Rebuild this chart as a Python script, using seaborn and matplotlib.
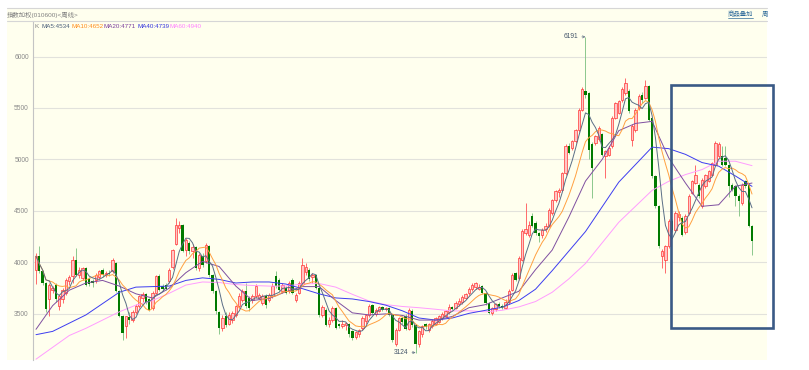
# 周线K线图 + 均线 (MA5/10/20/40/60)
import pandas as pd
import matplotlib
matplotlib.use("Agg")
import matplotlib.pyplot as plt
import seaborn as sns
from matplotlib.patches import Rectangle
from matplotlib.lines import Line2D

# K线数据 (每周 开/高/低/收)
opens = [
    3930, 4060, 3915, 3800, 3640, 3730, 3780, 3580, 3640, 3700,
    3820, 3870, 4020, 3880, 3850, 3945, 3840, 3820, 3830, 3860,
    3930, 3890, 3900, 3915, 3995, 3720, 3480, 3380, 3470, 3440,
    3520, 3573, 3650, 3690, 3640, 3560, 3700, 3865, 3770, 3780,
    3815, 3960, 4180, 4330, 4360, 4124, 4189, 4108, 4150, 3950,
    4059, 4010, 4156, 3880, 3720, 3520, 3363, 3480, 3400, 3440,
    3492, 3573, 3638, 3720, 3654, 3638, 3670, 3654, 3606, 3670,
    3638, 3670, 3865, 3832, 3719, 3751, 3719, 3832, 3638, 3703,
    3800, 3910, 3930, 3860, 3880, 3750, 3490, 3540, 3400, 3440,
    3557, 3400, 3380, 3390, 3400, 3330, 3280, 3300, 3360, 3430,
    3490, 3590, 3500, 3530, 3570, 3545, 3560, 3490, 3210, 3346,
    3460, 3480, 3350, 3530, 3390, 3210, 3300, 3400, 3340, 3380,
    3400, 3420, 3460, 3480, 3520, 3570, 3560, 3600, 3620, 3650,
    3700, 3740, 3760, 3745, 3768, 3703, 3606, 3509, 3550, 3600,
    3574, 3560, 3620, 3735, 3897, 3849, 4027, 4290, 4270, 4450,
    4383, 4286, 4270, 4320, 4350, 4480, 4610, 4680, 4700, 4870,
    5135, 5113, 5177, 5290, 5485, 5663, 5650, 5150, 5161, 5194,
    5250, 5032, 5048, 5129, 5404, 5453, 5582, 5647, 5663, 5193,
    5290, 5500, 5630, 5600, 5711, 5404, 4836, 4545, 4059, 4027,
    4156, 4400, 4318, 4440, 4432, 4300, 4480, 4675, 4772, 4756,
    4545, 4740, 4788, 4853, 4950, 5031, 5031, 5015, 4950, 4756,
    4740, 4642, 4578, 4790, 4756, 4351,
]
highs = [
    4090, 4160, 3930, 3810, 3800, 3770, 3800, 3690, 3750, 3850,
    3880, 4060, 4140, 3960, 3960, 3960, 3860, 3840, 3900, 3930,
    3950, 3920, 3930, 4045, 4000, 3730, 3490, 3480, 3520, 3540,
    3600, 3680, 3710, 3700, 3650, 3720, 3880, 3890, 3790, 3800,
    3950, 4130, 4431, 4400, 4370, 4240, 4210, 4180, 4160, 4090,
    4090, 4190, 4170, 3890, 3730, 3530, 3490, 3520, 3520, 3530,
    3590, 3700, 3740, 3800, 3670, 3690, 3790, 3700, 3690, 3690,
    3700, 3800, 3915, 3850, 3800, 3770, 3820, 3850, 3700, 3820,
    4043, 3990, 3950, 3900, 3890, 3760, 3590, 3560, 3470, 3580,
    3570, 3410, 3440, 3420, 3410, 3340, 3330, 3350, 3480, 3500,
    3600, 3600, 3560, 3580, 3580, 3570, 3570, 3500, 3360, 3470,
    3480, 3500, 3560, 3545, 3400, 3340, 3390, 3410, 3410, 3450,
    3470, 3490, 3520, 3540, 3600, 3580, 3630, 3650, 3680, 3700,
    3760, 3800, 3810, 3790, 3780, 3710, 3615, 3570, 3610, 3620,
    3600, 3640, 3740, 3900, 3910, 4060, 4320, 4578, 4400, 4480,
    4400, 4300, 4330, 4380, 4530, 4620, 4700, 4720, 4880, 5150,
    5160, 5190, 5300, 5500, 5700, 6191, 5660, 5170, 5240, 5323,
    5260, 5090, 5130, 5420, 5560, 5580, 5700, 5793, 5680, 5340,
    5500, 5640, 5660, 5776, 5720, 5410, 4850, 4560, 4130, 4170,
    4420, 4420, 4500, 4500, 4450, 4470, 4660, 4800, 4950, 4770,
    4820, 4860, 4900, 4980, 5180, 5170, 5128, 5128, 4960, 4770,
    4750, 4660, 4770, 4800, 4770, 4360,
]
lows = [
    3790, 3900, 3780, 3520, 3480, 3700, 3620, 3540, 3610, 3680,
    3780, 3800, 3870, 3850, 3830, 3770, 3770, 3760, 3800, 3840,
    3860, 3860, 3870, 3900, 3710, 3470, 3250, 3270, 3400, 3420,
    3500, 3560, 3620, 3600, 3530, 3540, 3690, 3720, 3720, 3730,
    3800, 3940, 4170, 4290, 4100, 4060, 4080, 4040, 3930, 3920,
    3960, 3990, 3860, 3700, 3500, 3300, 3330, 3370, 3390, 3410,
    3470, 3560, 3620, 3560, 3530, 3610, 3650, 3640, 3590, 3560,
    3620, 3650, 3750, 3720, 3700, 3690, 3700, 3690, 3620, 3690,
    3780, 3880, 3820, 3800, 3740, 3470, 3470, 3380, 3370, 3420,
    3350, 3360, 3360, 3340, 3280, 3250, 3260, 3280, 3340, 3400,
    3470, 3500, 3480, 3520, 3530, 3530, 3480, 3230, 3190, 3330,
    3400, 3340, 3340, 3370, 3124, 3180, 3280, 3350, 3320, 3360,
    3390, 3410, 3440, 3470, 3500, 3540, 3550, 3580, 3600, 3640,
    3680, 3720, 3740, 3730, 3690, 3590, 3495, 3490, 3530, 3560,
    3550, 3550, 3600, 3720, 3820, 3830, 4010, 4270, 4250, 4340,
    4270, 4200, 4240, 4300, 4340, 4460, 4590, 4640, 4690, 4850,
    5050, 5090, 5160, 5270, 5470, 5600, 5000, 4627, 5140, 5180,
    5030, 4820, 5030, 5110, 5390, 5440, 5560, 5630, 5450, 5128,
    5270, 5480, 5550, 5590, 5370, 4820, 4530, 4140, 3950, 3897,
    4140, 4300, 4300, 4400, 4260, 4280, 4460, 4660, 4760, 4630,
    4530, 4720, 4780, 4840, 4940, 5010, 4940, 4940, 4640, 4690,
    4545, 4450, 4560, 4720, 4340, 4075,
]
closes = [
    4060, 3915, 3800, 3545, 3780, 3755, 3640, 3670, 3735, 3830,
    3860, 4020, 3880, 3930, 3945, 3785, 3790, 3800, 3880, 3920,
    3880, 3900, 3890, 4027, 3720, 3480, 3310, 3476, 3440, 3520,
    3580, 3670, 3690, 3620, 3540, 3700, 3865, 3735, 3740, 3745,
    3930, 4120, 4367, 4360, 4110, 4221, 4108, 4150, 3950, 4075,
    3978, 4172, 3880, 3720, 3525, 3363, 3460, 3395, 3490, 3508,
    3573, 3670, 3719, 3573, 3557, 3670, 3767, 3686, 3670, 3590,
    3686, 3767, 3767, 3735, 3784, 3703, 3800, 3703, 3686, 3800,
    3978, 3960, 3835, 3880, 3750, 3490, 3570, 3395, 3440, 3557,
    3363, 3380, 3400, 3410, 3300, 3265, 3320, 3340, 3460, 3490,
    3573, 3510, 3540, 3570, 3540, 3560, 3490, 3250, 3346, 3460,
    3420, 3350, 3540, 3390, 3210, 3330, 3380, 3370, 3400, 3430,
    3460, 3480, 3500, 3525, 3570, 3550, 3610, 3630, 3660, 3690,
    3740, 3780, 3800, 3760, 3703, 3606, 3509, 3557, 3600, 3574,
    3560, 3620, 3720, 3881, 3832, 4043, 4302, 4320, 4367, 4350,
    4286, 4254, 4318, 4350, 4513, 4610, 4691, 4705, 4870, 5129,
    5064, 5177, 5290, 5485, 5680, 5630, 5096, 4918, 5226, 5307,
    5048, 5080, 5113, 5404, 5550, 5566, 5680, 5745, 5469, 5322,
    5484, 5614, 5580, 5711, 5387, 4836, 4545, 4156, 4108, 4156,
    4400, 4318, 4480, 4470, 4270, 4450, 4642, 4788, 4853, 4642,
    4804, 4853, 4885, 4966, 5161, 5150, 4950, 4950, 4740, 4707,
    4642, 4600, 4756, 4740, 4351, 4205,
]

# 长周期均线 (每5周读一个点)
ma_step = 5
ma20 = [3350, 3580, 3730, 3800, 3825, 3770, 3695, 3654, 3750, 3900,
        4010, 3960, 3770, 3630, 3650, 3715, 3765, 3765, 3630, 3510,
        3490, 3500, 3485, 3440, 3440, 3475, 3560, 3590, 3655, 3720,
        3930, 4120, 4440, 4790, 5000, 5280, 5350, 5370, 5015, 4772,
        4545, 4560, 4740, 4771]
ma40 = [3298, 3330, 3410, 3490, 3600, 3710, 3760, 3765, 3770, 3825,
        3850, 3835, 3800, 3810, 3810, 3790, 3745, 3695, 3655, 3645,
        3620, 3585, 3530, 3460, 3440, 3460, 3505, 3535, 3565, 3630,
        3740, 3920, 4110, 4300, 4540, 4780, 4950, 5120, 5105, 5050,
        4970, 4935, 4840, 4739]
ma60 = [3060, 3175, 3290, 3360, 3440, 3520, 3585, 3630, 3700, 3780,
        3810, 3805, 3785, 3776, 3770, 3771, 3790, 3795, 3760, 3690,
        3625, 3590, 3572, 3560, 3545, 3528, 3530, 3520, 3535, 3568,
        3620, 3710, 3840, 3990, 4190, 4390, 4545, 4700, 4788, 4853,
        4902, 4983, 4983, 4940]

legenda = ["MA5:4534", "MA10:4652", "MA20:4771", "MA40:4739", "MA60:4940"]
cores_legenda = ["#4B5F7A", "#FF8C1A", "#7A3D9C", "#3333DD", "#FF80FF"]
yticks = [3500, 4000, 4500, 5000, 5500, 6000]

sns.set_style("white")
plt.rcParams['font.family'] = ['Liberation Sans', 'Noto Sans CJK SC']

W, H = 809, 370
fundo = '#FFFFEE'


def fx(px):
    return px / W


def fy(py):
    return 1 - py / H


fig = plt.figure(figsize=(W / 100, H / 100), dpi=100)
# painel amarelo atras de tudo
fig.patches.append(Rectangle((fx(7), fy(360)), fx(767) - fx(7), fy(8) - fy(360),
                             transform=fig.transFigure, facecolor=fundo,
                             edgecolor='none', zorder=-5))
for yy in (8, 20.5):
    fig.add_artist(Line2D([fx(7), fx(767)], [fy(yy), fy(yy)], color='#D6D6D6', lw=0.8))

ax = fig.add_axes([fx(33), fy(360), fx(767) - fx(33), fy(20.5) - fy(360)])
ax.set_facecolor(fundo)

df = pd.DataFrame({'open': opens, 'high': highs, 'low': lows, 'close': closes})
df['i'] = range(len(df))
df['ma5'] = df['close'].rolling(5, min_periods=1).mean()
df['ma10'] = df['close'].rolling(10, min_periods=1).mean()
sub = pd.DataFrame({'i': [k * ma_step for k in range(len(ma20))],
                    'ma20': ma20, 'ma40': ma40, 'ma60': ma60})

up = df['close'] >= df['open']
dn = ~up
body_lo = df[['open', 'close']].min(axis=1)
body_h = (df['close'] - df['open']).abs().clip(lower=8)

# pavios
ax.vlines(df['i'][up], df['low'][up], df['high'][up], color='#FF6A6A', lw=0.7, zorder=2)
ax.vlines(df['i'][dn], df['low'][dn], df['high'][dn], color='#8CC88C', lw=0.7, zorder=2)
# corpos
ax.bar(df['i'][up], body_h[up], bottom=body_lo[up], width=0.7,
       facecolor='#FFC6C6', edgecolor='#FF3535', linewidth=0.5, zorder=3)
ax.bar(df['i'][dn], body_h[dn], bottom=body_lo[dn], width=0.7,
       color='#007A00', linewidth=0, zorder=3)

# medias moveis
sns.lineplot(x=sub['i'], y=sub['ma60'], ax=ax, color='#FF9CFF', lw=0.7, zorder=4)
sns.lineplot(x=sub['i'], y=sub['ma40'], ax=ax, color='#3C3CF0', lw=0.7, zorder=4)
sns.lineplot(x=sub['i'], y=sub['ma20'], ax=ax, color='#7F4FA0', lw=0.7, zorder=4)
sns.lineplot(x=df['i'], y=df['ma10'], ax=ax, color='#FFA040', lw=0.7, zorder=4)
sns.lineplot(x=df['i'], y=df['ma5'], ax=ax, color='#5A6E86', lw=0.7, zorder=4)

# maxima / minima
i_max = int(df['high'].idxmax())
i_min = int(df['low'].idxmin())
for idx, val in ((i_max, highs[i_max]), (i_min, lows[i_min])):
    ax.annotate(str(val), xy=(idx, val), xytext=(-5, 0), textcoords='offset points',
                ha='right', va='center', fontsize=4.8, color='#44556A',
                arrowprops=dict(arrowstyle='->', color='#667788', lw=0.5,
                                mutation_scale=4, shrinkA=0, shrinkB=0))

ax.set_xlim(-0.9, 219.5)
ax.set_ylim(3052, 6350)
ax.set_yticks(yticks)
ax.set_xticks([])
ax.grid(axis='y', color='#E2E2DC', lw=0.8)
ax.set_axisbelow(True)
ax.tick_params(axis='y', length=0, labelsize=4.8, labelcolor='#8A8A8A', pad=3)
ax.set_xlabel('')
ax.set_ylabel('')
for s in ('top', 'right', 'bottom'):
    ax.spines[s].set_visible(False)
ax.spines['left'].set_color('#C4C4C4')
ax.spines['left'].set_linewidth(0.8)

# cabecalho e legenda
fig.text(fx(7), fy(14.5), '指数加权(010600)<周线>', fontsize=4.6, color='#808080', va='center')
fig.text(fx(728), fy(14), '商品叠加', fontsize=4.6, color='#2E6A9A', va='center')
fig.add_artist(Line2D([fx(728), fx(753)], [fy(18), fy(18)], color='#2E6A9A', lw=0.5))
fig.text(fx(762), fy(14), '周', fontsize=4.6, color='#2E6A9A', va='center')

fig.text(fx(34.5), fy(27), 'K', fontsize=4.6, color='#808080', va='center')
xs_leg = [42, 71, 104, 137, 169]
for xp, txt, cor in zip(xs_leg, legenda, cores_legenda):
    fig.text(fx(xp), fy(27), txt, fontsize=4.5, color=cor, va='center')

# destaque
fig.add_artist(Rectangle((fx(671.3), fy(328)), fx(773) - fx(671.3), fy(85) - fy(328),
                         transform=fig.transFigure, fill=False,
                         edgecolor='#3A5A86', lw=1.9, zorder=10))

fig.savefig('out.png', dpi=100, facecolor='white')
